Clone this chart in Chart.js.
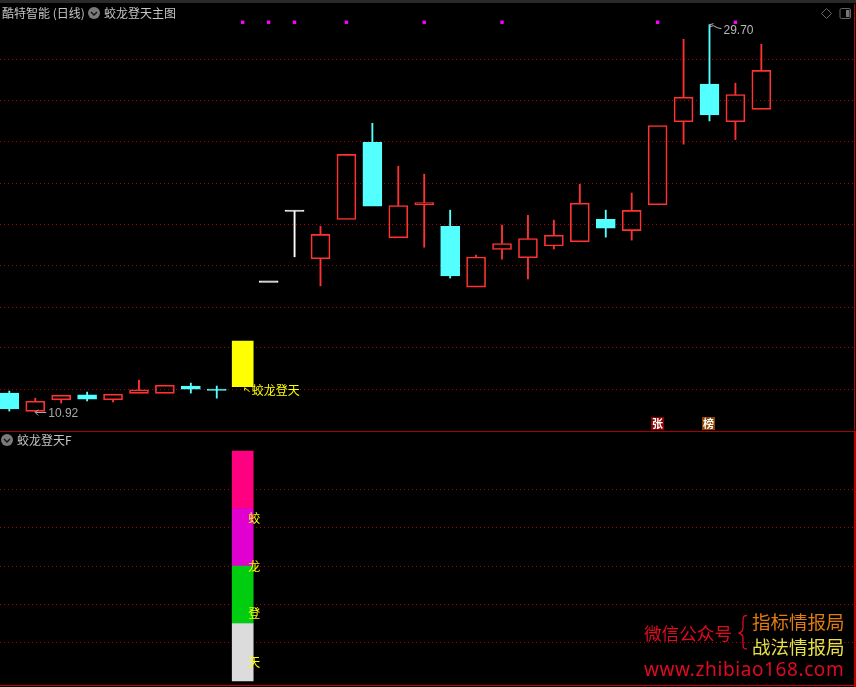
<!DOCTYPE html>
<html>
<head>
<meta charset="utf-8">
<script src="https://cdn.jsdelivr.net/npm/chart.js@4/dist/chart.umd.min.js"></script>
<style>
html,body{margin:0;padding:0;background:#000;width:856px;height:687px;overflow:hidden}
canvas{position:absolute;left:0}
.t{position:absolute;white-space:nowrap;font-family:"Noto Sans CJK SC",sans-serif;line-height:1}
.line{position:absolute;background:#a80000}
svg{position:absolute;overflow:visible}
</style>
</head>
<body>
<div class="line" style="left:0;top:0;width:856px;height:3px;background:#2a2a2a"></div>
<canvas id="top" style="top:0" width="856" height="431"></canvas>
<canvas id="bottom" style="top:431px" width="856" height="256"></canvas>
<div class="line" style="left:0;top:431px;width:854px;height:1px"></div>
<div class="line" style="left:0;top:685px;width:854px;height:1px;background:#c00010"></div>
<div class="line" style="left:854px;top:4px;width:1px;height:427px;background:#c00000"></div>
<div class="line" style="left:854px;top:431px;width:2px;height:256px;background:#c00000"></div>

<div class="t" style="left:2px;top:7px;font-size:12px;color:#c4c4c4">酷特智能 (日线)</div>
<div class="t" style="left:104px;top:7px;font-size:12px;color:#c4c4c4">蛟龙登天主图</div>
<div class="t" style="left:17px;top:434px;font-size:12px;color:#c4c4c4">蛟龙登天F</div>
<svg style="left:0;top:0" width="856" height="450">
  <circle cx="94" cy="13" r="6" fill="#7a7a7a"/><path d="M91 12l3 3l3-3" stroke="#111" stroke-width="1.4" fill="none"/>
  <circle cx="7" cy="440" r="6" fill="#7a7a7a"/><path d="M4 439l3 3l3-3" stroke="#111" stroke-width="1.4" fill="none"/>
  <path d="M826.5 8.500l5 5l-5 5l-5-5z" stroke="#666" fill="none"/>
  <rect x="840" y="8.500" width="10.500" height="10" rx="1.500" stroke="#666" fill="none"/><rect x="846" y="10" width="3.500" height="7" fill="#777"/>
</svg>

<div class="t" style="left:644px;top:624px;font-size:17.6px;color:#e00a20">微信公众号</div>
<svg style="left:0;top:0" width="856" height="687">
  <path d="M747 615.5c-4 0-4 2-4 6v6c0 3-1 5-4.500 5.500c3.500 .5 4.500 2.500 4.500 5.500v5c0 4 0 5.500 4 5.500" stroke="#e00a20" stroke-width="1.3" fill="none"/>
</svg>
<div class="t" style="left:752px;top:612px;font-size:18.5px;color:#e07c10">指标情报局</div>
<div class="t" style="left:752px;top:637px;font-size:18.5px;color:#e8e048">战法情报局</div>
<div class="t" style="left:644px;top:660px;font-size:19px;letter-spacing:.6px;color:#e00a20;font-family:'Noto Sans',sans-serif">www.zhibiao168.com</div>

<script>
const openPrices  = [11.46,10.93,11.26,11.41,11.26,11.45,11.45,11.67,11.54,null,15.26,18.33,16.22,17.95,21.92,17.12,18.65,17.64,15.07,16.61,16.26,16.76,16.94,17.96,17.44,18.65,23.11,25.47,23.11,23.86];
const closePrices = [11.00,11.22,11.40,11.28,11.43,11.56,11.70,11.58,11.54,null,15.26,18.33,17.27,21.24,18.58,18.61,18.75,15.51,16.29,16.87,17.09,17.24,18.73,17.55,18.38,22.89,24.63,23.53,24.80,26.39];
const highPrices  = [11.52,11.31,11.40,11.49,11.43,11.85,11.70,11.76,11.67,null,15.26,18.33,17.64,21.24,23.02,20.60,20.18,18.39,16.37,17.69,18.15,17.92,19.66,18.39,19.22,22.89,28.60,29.70,25.53,28.23];
const lowPrices   = [10.94,10.92,11.17,11.23,11.20,11.45,11.45,11.46,11.31,null,15.26,16.30,15.12,17.95,18.58,17.12,16.71,15.43,15.07,16.20,15.39,16.63,16.94,17.15,17.02,18.65,21.81,23.16,22.07,23.86];
const candleKinds = ['fall','rise','rise','fall','rise','rise','rise','fall','fall','none','limit','limit','rise','rise','fall','rise','rise','fall','rise','rise','rise','rise','rise','fall','rise','rise','rise','fall','rise','rise'];
const priceGrid   = [27.15,24.41,21.94,19.71,17.72,15.93,14.31,12.88,11.57];
const signalIndex = 9;
const signalRange = [11.65,13.11];
const dotIndexes  = [9,10,11,13,16,19,25,28];
const dotPrice    = 29.89;
const badgeIndexes= [25,27];
const badgeTexts  = ['张','榜'];
const badgeColors = ['#8a0000','#8b4300'];
const levelBounds = [0,1,2,3,4];
const levelColors = ['#dcdcdc','#00cc10','#e000d0','#ff0080'];
const levelTexts  = ['蛟','龙','登','天'];
const levelTextAt = [2.83,2,1.17,0.33];
const lowerGrid   = [0.67,1.33,2,2.67,3.33];

const kindColor = {fall:'#54ffff',rise:'#ff3232',limit:'#ffffff',none:'#000'};
const GRID = '#b00000';
const xRange = {min:-0.359,max:32.65};
const idx = openPrices.map((_,i)=>i).filter(i=>openPrices[i]!==null);
const top_ = i=>Math.max(openPrices[i],closePrices[i]);
const bot_ = i=>Math.min(openPrices[i],closePrices[i]);
const upIdx = idx.filter(i=>highPrices[i]>top_(i));
const lowIdx = idx.filter(i=>lowPrices[i]<bot_(i));

Chart.defaults.animation = false;
const basePlugins = {legend:{display:false},tooltip:{enabled:false},title:{display:false}};
const yAxis = (extra,vals)=>Object.assign({
  display:true,
  ticks:{display:false},
  border:{display:false,dash:[1,3]},
  grid:{color:GRID,lineWidth:1,drawTicks:false},
  afterBuildTicks:s=>{s.ticks=vals.map(v=>({value:v}));}
},extra);
const xAxis = Object.assign({type:'linear',display:false,offset:false,grid:{display:false}},xRange);

const priceLabels = {
  id:'priceLabels',
  afterDatasetsDraw(c){
    const g=c.ctx,x=c.scales.x,y=c.scales.y;
    const put=(s,px,py,col,font)=>{g.font=font;g.fillStyle=col;g.textBaseline='middle';g.textAlign='left';g.fillText(s,px,py);};
    g.save();
    const lx=x.getPixelForValue(1),ly=Math.round(y.getPixelForValue(10.92))+.5;
    g.strokeStyle='#a8a8a8';g.lineWidth=1;
    g.beginPath();g.moveTo(lx,ly);g.lineTo(lx+11,ly);g.moveTo(lx+3,ly-3);g.lineTo(lx,ly);g.lineTo(lx+3,ly+3);g.stroke();
    put('10.92',lx+13,ly+1,'#a8a8a8','12px "Liberation Sans"');
    const hx=x.getPixelForValue(27),hy=y.getPixelForValue(29.70);
    g.strokeStyle='#b8b8b8';
    g.beginPath();g.moveTo(hx,hy);g.lineTo(hx+4,hy-1);g.moveTo(hx,hy+2);g.lineTo(hx+4,hy+1);g.lineTo(hx+8,hy+3);g.lineTo(hx+12,hy+4);g.stroke();
    put('29.70',hx+14,hy+5.5,'#b8b8b8','12px "Liberation Sans"');
    const sx=x.getPixelForValue(signalIndex),sy=y.getPixelForValue(signalRange[0]);
    g.strokeStyle='#ffff00';
    g.beginPath();g.moveTo(sx+2,sy+1);g.lineTo(sx+2,sy+4);g.moveTo(sx+2,sy+1);g.lineTo(sx+7,sy+5);g.stroke();
    put('蛟龙登天',sx+9,sy+4,'#ffff00','12px "Noto Sans CJK SC"');
    badgeIndexes.forEach((b,i)=>{
      const px=x.getPixelForValue(b);
      g.fillStyle=badgeColors[i];g.fillRect(Math.round(px-7),417,13,13);
      g.font='bold 11px "Noto Sans CJK SC"';g.fillStyle='#fff';g.textAlign='center';g.textBaseline='middle';
      g.fillText(badgeTexts[i],Math.round(px-7)+6.5,423.5);
    });
    g.restore();
  }
};

new Chart(document.getElementById('top'),{
  type:'bar',
  data:{datasets:[
    {label:'upper',grouped:false,barThickness:1.2,borderWidth:0,
     data:upIdx.map(i=>({x:i,y:[top_(i),highPrices[i]]})),
     backgroundColor:upIdx.map(i=>kindColor[candleKinds[i]])},
    {label:'lower',grouped:false,barThickness:1.2,borderWidth:0,
     data:lowIdx.map(i=>({x:i,y:[lowPrices[i],bot_(i)]})),
     backgroundColor:lowIdx.map(i=>kindColor[candleKinds[i]])},
    {label:'body',grouped:false,barThickness:19,borderWidth:1,borderSkipped:false,minBarLength:1.4,
     data:idx.map(i=>({x:i,y:[bot_(i),top_(i)]})),
     backgroundColor:idx.map(i=>candleKinds[i]==='rise'?'rgba(0,0,0,0)':kindColor[candleKinds[i]]),
     borderColor:idx.map(i=>kindColor[candleKinds[i]])},
    {label:'signal',grouped:false,barThickness:21,borderWidth:0,
     data:[{x:signalIndex,y:signalRange}],backgroundColor:'#ffff00'},
    {label:'dots',type:'scatter',data:dotIndexes.map(i=>({x:i,y:dotPrice})),
     pointStyle:'rect',pointRadius:2.4,backgroundColor:'#ff00ff',borderWidth:0}
  ]},
  options:{
    responsive:false,devicePixelRatio:1,maintainAspectRatio:false,
    layout:{padding:0,autoPadding:false},
    plugins:basePlugins,
    scales:{x:xAxis,y:yAxis({type:'logarithmic',min:10.39,max:31.66},priceGrid)}
  },
  plugins:[priceLabels]
});

const levelLabels = {
  id:'levelLabels',
  afterDatasetsDraw(c){
    const g=c.ctx,x=c.scales.x,y=c.scales.y;
    g.save();g.font='12px "Noto Sans CJK SC"';g.fillStyle='#ffff00';g.textAlign='left';g.textBaseline='middle';
    levelTexts.forEach((s,i)=>g.fillText(s,x.getPixelForValue(signalIndex)+5.5,y.getPixelForValue(levelTextAt[i])));
    g.restore();
  }
};

new Chart(document.getElementById('bottom'),{
  type:'bar',
  data:{datasets:levelColors.map((col,i)=>({
    label:'level'+i,grouped:false,barThickness:21,borderWidth:0,
    data:[{x:signalIndex,y:[levelBounds[i],levelBounds[i+1]]}],backgroundColor:col
  }))},
  options:{
    responsive:false,devicePixelRatio:1,maintainAspectRatio:false,
    layout:{padding:0,autoPadding:false},
    plugins:basePlugins,
    scales:{x:xAxis,y:yAxis({type:'linear',min:-0.104,max:4.348},lowerGrid)}
  },
  plugins:[levelLabels]
});
</script>
</body>
</html>
